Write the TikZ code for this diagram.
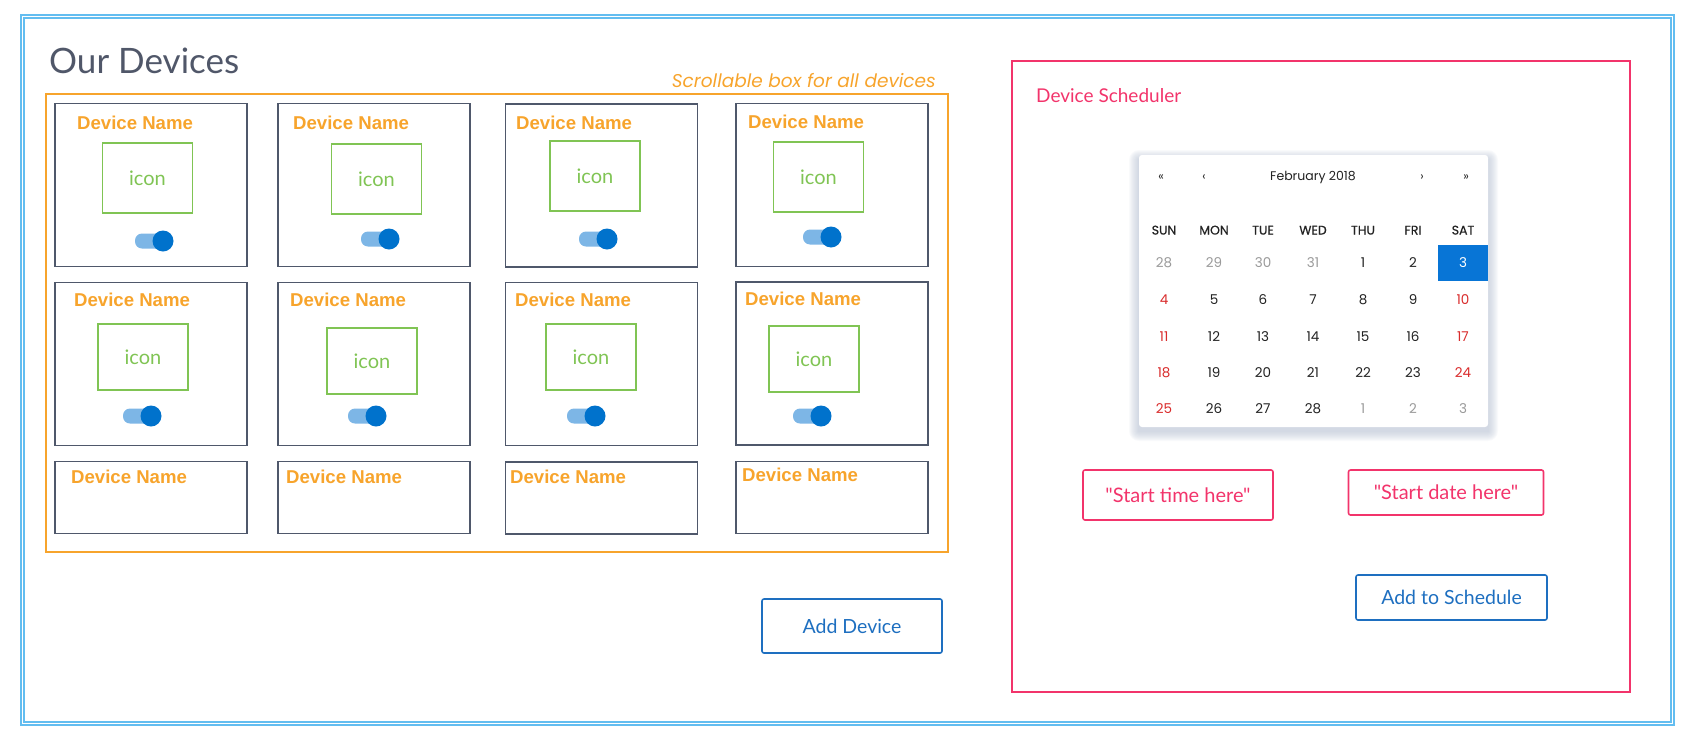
\documentclass[tikz,border=0pt]{standalone}
\usepackage{fontspec}
\setmainfont{Lato}
\newfontfamily\namefont{Liberation Sans}
\newfontfamily\calfont{Poppins}
\newfontfamily\calhfont{Poppins}[FakeBold=0.5]
\newfontfamily\fieldfont{Lato}[Ligatures=TeXOff]
\definecolor{frameblue}{HTML}{63BDF0}
\definecolor{boxorange}{HTML}{F7A42C}
\definecolor{slate}{HTML}{4F586B}
\definecolor{titlegray}{HTML}{505769}
\definecolor{icongreen}{HTML}{80C454}
\definecolor{pinkred}{HTML}{F2346B}
\definecolor{btnblue}{HTML}{1E6FC0}
\definecolor{knobblue}{HTML}{0072CC}
\definecolor{trackblue}{HTML}{7DB6E6}
\definecolor{selblue}{HTML}{0875D6}
\definecolor{wkred}{HTML}{D92B2B}
\definecolor{offgray}{HTML}{9A9A9A}
\definecolor{daytext}{HTML}{222222}
\definecolor{shadowgray}{HTML}{B0BBCE}
\begin{document}
\begin{tikzpicture}[x=1pt, y=-1pt,
  card/.style={draw=slate, line width=1.6pt, minimum width=192, minimum height=163, inner sep=0},
  lowcard/.style={card, minimum height=72},
  devname/.style={anchor=base west, inner sep=0, text=boxorange, font=\namefont\bfseries\fontsize{18.6}{20}\selectfont},
  iconbox/.style={draw=icongreen, line width=1.4pt, minimum width=90, minimum height=70, inner sep=0, text=icongreen, font=\fontsize{20}{22}\selectfont},
  track/.style={fill=trackblue, rounded corners=7pt, minimum width=36, minimum height=15, inner sep=0},
  knob/.style={circle, fill=knobblue, minimum size=21, inner sep=0},
  calnum/.style={anchor=base, inner sep=0, text=daytext, font=\calfont\fontsize{13.5}{15}\selectfont},
  wkend/.style={calnum, text=wkred},
  offday/.style={calnum, text=offgray},
  calhead/.style={calnum, font=\calhfont\fontsize{12.5}{15}\selectfont},
  field/.style={draw=pinkred, line width=1.6pt, rounded corners=2pt, text=pinkred, inner sep=0, font=\fieldfont\fontsize{20}{22}\selectfont},
  button/.style={draw=btnblue, line width=1.6pt, rounded corners=2pt, text=btnblue, inner sep=0, font=\fontsize{19.5}{22}\selectfont}
]
\useasboundingbox (0,0) rectangle (1691,747);
\node[draw=frameblue, line width=1.2pt, double=white, double distance=1.8pt, minimum width=1650, minimum height=707, inner sep=0] (frame) at (847.5,370) {};
\node[anchor=base west, inner sep=0, text=titlegray, font=\fontsize{35}{40}\selectfont] (title) at (49,73) {Our Devices};
\node[draw=boxorange, line width=1.5pt, minimum width=902, minimum height=458, inner sep=0] (scroll) at (497,323) {};
\node[anchor=base east, inner sep=0, text=boxorange, font=\calfont\itshape\fontsize{18.5}{20}\selectfont] (scrollnote) at (936,87) {Scrollable box for all devices};

% device cards
\node[card] (dev1) at (151,185) {};
\node[card] (dev2) at (374,185) {};
\node[card] (dev3) at (601.5,185.5) {};
\node[card] (dev4) at (832,185) {};
\node[card] (dev5) at (151,364) {};
\node[card] (dev6) at (374,364) {};
\node[card] (dev7) at (601.5,364) {};
\node[card] (dev8) at (832,363.5) {};
\node[lowcard] (dev9) at (151,497.5) {};
\node[lowcard] (dev10) at (374,497.5) {};
\node[lowcard] (dev11) at (601.5,498) {};
\node[lowcard] (dev12) at (832,497.5) {};
\node[devname] (nm1) at (77,129) {Device Name};
\node[devname] (nm2) at (293,129) {Device Name};
\node[devname] (nm3) at (516,129) {Device Name};
\node[devname] (nm4) at (748,128) {Device Name};
\node[devname] (nm5) at (74,306) {Device Name};
\node[devname] (nm6) at (290,306) {Device Name};
\node[devname] (nm7) at (515,306) {Device Name};
\node[devname] (nm8) at (745,305) {Device Name};
\node[devname] (nm9) at (71,483) {Device Name};
\node[devname] (nm10) at (286,483) {Device Name};
\node[devname] (nm11) at (510,483) {Device Name};
\node[devname] (nm12) at (742,481) {Device Name};
\node[iconbox] (ico1) at (147.5,178) {icon};
\node[iconbox] (ico2) at (376.5,179) {icon};
\node[iconbox] (ico3) at (595,176) {icon};
\node[iconbox] (ico4) at (818.5,177) {icon};
\node[iconbox, minimum height=66] (ico5) at (143,357) {icon};
\node[iconbox, minimum height=66] (ico6) at (372,361) {icon};
\node[iconbox, minimum height=66] (ico7) at (591,357) {icon};
\node[iconbox, minimum height=66] (ico8) at (814,359) {icon};
\node[track] (trk1) at (153,241) {};
\node[knob] (knb1) at (163,241) {};
\node[track] (trk2) at (379,239) {};
\node[knob] (knb2) at (389,239) {};
\node[track] (trk3) at (597,239) {};
\node[knob] (knb3) at (607,239) {};
\node[track] (trk4) at (821,237) {};
\node[knob] (knb4) at (831,237) {};
\node[track] (trk5) at (141,416) {};
\node[knob] (knb5) at (151,416) {};
\node[track] (trk6) at (366,416) {};
\node[knob] (knb6) at (376,416) {};
\node[track] (trk7) at (585,416) {};
\node[knob] (knb7) at (595,416) {};
\node[track] (trk8) at (811,416) {};
\node[knob] (knb8) at (821,416) {};
\node[button, minimum width=180, minimum height=54] (adddev) at (852,626) {Add Device};

% scheduler
\node[draw=pinkred, line width=1.8pt, minimum width=618, minimum height=631, inner sep=0] (sched) at (1321,376.5) {};
\node[anchor=base west, inner sep=0, text=pinkred, font=\fontsize{19}{22}\selectfont] (schedtitle) at (1036,102) {Device Scheduler};
\foreach \g in {1,...,10}
  \fill[shadowgray, opacity=0.08, rounded corners=\g pt] ({1139-\g},{160-\g}) rectangle ({1488+\g},{431+\g});
\node[fill=white, rounded corners=3pt, minimum width=349, minimum height=272, inner sep=0] (cal) at (1313.5,291) {};
\node[fill=selblue, minimum width=50, minimum height=36, inner sep=0] (sel) at (1463,263) {};
\node[calnum, font=\calfont\fontsize{12}{14}\selectfont] (prvy) at (1161,180.5) {«};
\node[calnum, font=\calfont\fontsize{12}{14}\selectfont] (prvm) at (1204,180.5) {‹};
\node[calnum, font=\calfont\fontsize{12.5}{14}\selectfont] (month) at (1313,180.5) {February 2018};
\node[calnum, font=\calfont\fontsize{12}{14}\selectfont] (nxtm) at (1422,180.5) {›};
\node[calnum, font=\calfont\fontsize{12}{14}\selectfont] (nxty) at (1466,180.5) {»};
\node[calhead] (wd1) at (1164,234.5) {SUN};
\node[calhead] (wd2) at (1214,234.5) {MON};
\node[calhead] (wd3) at (1263,234.5) {TUE};
\node[calhead] (wd4) at (1313,234.5) {WED};
\node[calhead] (wd5) at (1363,234.5) {THU};
\node[calhead] (wd6) at (1413,234.5) {FRI};
\node[calhead] (wd7) at (1463,234.5) {SAT};
\node[offday] (dy1) at (1164,267.5) {28};
\node[offday] (dy2) at (1214,267.5) {29};
\node[offday] (dy3) at (1263,267.5) {30};
\node[offday] (dy4) at (1313,267.5) {31};
\node[calnum] (dy5) at (1363,267.5) {1};
\node[calnum] (dy6) at (1413,267.5) {2};
\node[calnum, text=white] (dy7) at (1463,267.5) {3};
\node[wkend] (dy8) at (1164,304.5) {4};
\node[calnum] (dy9) at (1214,304.5) {5};
\node[calnum] (dy10) at (1263,304.5) {6};
\node[calnum] (dy11) at (1313,304.5) {7};
\node[calnum] (dy12) at (1363,304.5) {8};
\node[calnum] (dy13) at (1413,304.5) {9};
\node[wkend] (dy14) at (1463,304.5) {10};
\node[wkend] (dy15) at (1164,341.5) {11};
\node[calnum] (dy16) at (1214,341.5) {12};
\node[calnum] (dy17) at (1263,341.5) {13};
\node[calnum] (dy18) at (1313,341.5) {14};
\node[calnum] (dy19) at (1363,341.5) {15};
\node[calnum] (dy20) at (1413,341.5) {16};
\node[wkend] (dy21) at (1463,341.5) {17};
\node[wkend] (dy22) at (1164,377.5) {18};
\node[calnum] (dy23) at (1214,377.5) {19};
\node[calnum] (dy24) at (1263,377.5) {20};
\node[calnum] (dy25) at (1313,377.5) {21};
\node[calnum] (dy26) at (1363,377.5) {22};
\node[calnum] (dy27) at (1413,377.5) {23};
\node[wkend] (dy28) at (1463,377.5) {24};
\node[wkend] (dy29) at (1164,413.5) {25};
\node[calnum] (dy30) at (1214,413.5) {26};
\node[calnum] (dy31) at (1263,413.5) {27};
\node[calnum] (dy32) at (1313,413.5) {28};
\node[offday] (dy33) at (1363,413.5) {1};
\node[offday] (dy34) at (1413,413.5) {2};
\node[offday] (dy35) at (1463,413.5) {3};
\node[field, minimum width=190, minimum height=50] (tstart) at (1178,495) {"Start time here"};
\node[field, minimum width=195, minimum height=45] (dstart) at (1446,492.5) {"Start date here"};
\node[button, minimum width=191, minimum height=45] (addsch) at (1451.5,597.5) {Add to Schedule};

\end{tikzpicture}
\end{document}
